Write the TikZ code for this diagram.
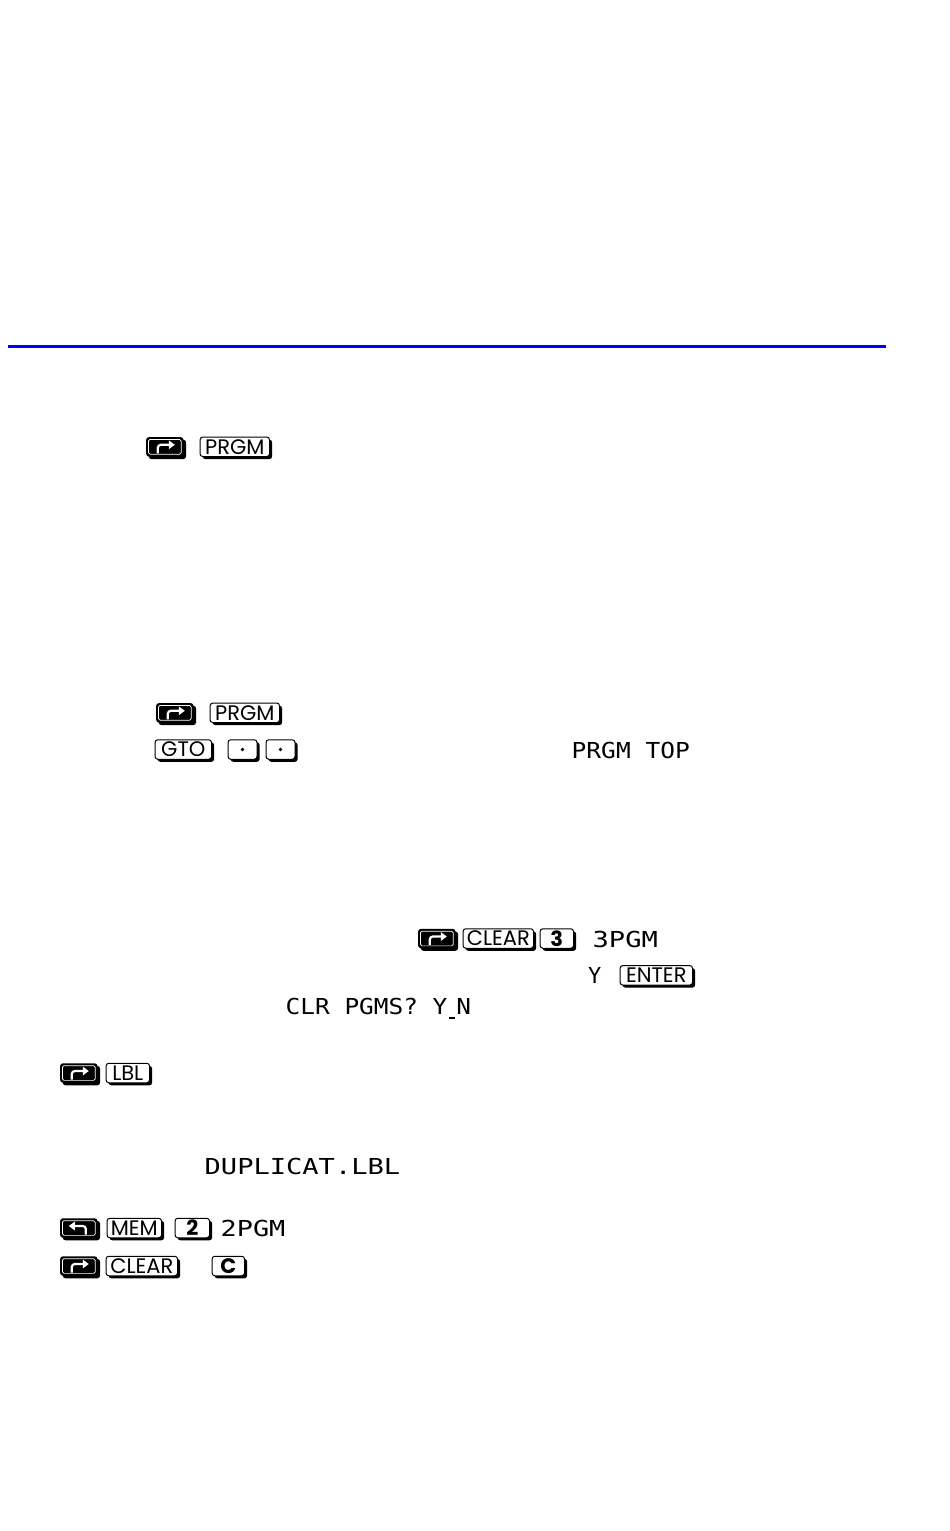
\documentclass[tikz,border=0pt]{standalone}
\usepackage{graphicx}
\usepackage{fontspec}
\setmainfont{Poppins}
\newfontfamily\lcdfam{DejaVu Sans Mono}
\usetikzlibrary{shadows,arrows.meta}
\newcommand\keyfont{\fontsize{21}{22}\selectfont}
\newcommand\lcdfont{\lcdfam\fontsize{22}{24}\selectfont}
\newcommand\lcdcur{\kern1.5pt\rule[-5pt]{5pt}{1.6pt}\kern1.5pt}
\tikzset{
  keysh/.style={drop shadow={shadow xshift=2.6pt, shadow yshift=-2.6pt, opacity=1, fill=black}},
  key/.style={draw=black, line width=1pt, fill=white, rounded corners=2.8pt, inner sep=0pt,
    minimum height=19.5pt, font=\keyfont, keysh},
  numkey/.style={key, font=\keyfont\bfseries},
  shk/.style={fill=black, rounded corners=3pt, inner sep=0pt, minimum width=37.5pt,
    minimum height=19.5pt, keysh},
  lcdtxt/.style={anchor=base west, inner sep=0pt, font=\lcdfont},
  shring/.style={white, line width=0.7pt, rounded corners=1.5pt},
  sharrow/.style={white, line width=2.2pt, rounded corners=3pt, -{Triangle[length=6pt,width=8.5pt]}},
}
% right-shift key: name, x, y
\newcommand\myRsh[3]{%
  \node[shk] (#1) at (#2,#3) {};
  \draw[shring] ([shift={(2.6,2.6)}]#1.north west) rectangle ([shift={(-2.6,-2.6)}]#1.south east);
  \draw[sharrow] ([shift={(-7,6.5)}]#1.center) -- ([shift={(-7,-2)}]#1.center) -- ([shift={(10,-2)}]#1.center);
}
% left-shift key
\newcommand\myLsh[3]{%
  \node[shk] (#1) at (#2,#3) {};
  \draw[shring] ([shift={(2.6,2.6)}]#1.north west) rectangle ([shift={(-2.6,-2.6)}]#1.south east);
  \draw[sharrow] ([shift={(7,6.5)}]#1.center) -- ([shift={(7,-2)}]#1.center) -- ([shift={(-10,-2)}]#1.center);
}
\begin{document}
\begin{tikzpicture}[x=1pt,y=-1pt]
\fill[white] (0,0) rectangle (950,1531);
\useasboundingbox (0,0) rectangle (950,1531);

% blue rule
\coordinate (rl) at (8,346);
\coordinate (rr) at (886,346);
\draw[draw={rgb,255:red,0;green,0;blue,255}, line width=3pt] (rl) -- (rr);

% row 1
\myRsh{s1}{164.8}{446.8}
\node[key, minimum width=69.5pt] (prgm1) at (234.8,446.8) {PRGM};

% row 2
\myRsh{s2}{174.8}{712.8}
\node[key, minimum width=69.5pt] (prgm2) at (244.8,712.8) {PRGM};

% row 3
\node[key, minimum width=56.5pt] (gto) at (183.3,749.5) {GTO};
\node[key, minimum width=29pt] (dot1) at (242.5,749.5) {};
\node[key, minimum width=29pt] (dot2) at (280.5,749.5) {};
\fill (dot1.center) circle (1.8pt);
\fill (dot2.center) circle (1.8pt);
\node[lcdtxt] (ptop) at (571.5,758.3) {\scalebox{1.115}[1]{PRGM TOP}};

% row 4
\myRsh{s3}{436.8}{938.5}
\node[key, minimum width=70.5pt] (clear1) at (498.3,938.5) {CLEAR};
\node[numkey, minimum width=33.5pt] (k3) at (556.8,938.5) {3};
\node[lcdtxt] (p3) at (592.5,947) {\scalebox{1.23}[1]{3PGM}};

% row 5
\node[lcdtxt] (yy) at (588,983) {Y};
\node[key, minimum width=72.5pt] (enter) at (656.3,975.3) {ENTER};

% row 6
\node[lcdtxt] (clr) at (285.5,1014) {\scalebox{1.11}[1]{CLR PGMS? Y\lcdcur N}};

% row 7
\myRsh{s4}{78.8}{1073}
\node[key, minimum width=43.5pt] (lbl) at (127.8,1073) {LBL};

% row 8
\node[lcdtxt] (dup) at (204.5,1174) {\scalebox{1.23}[1]{DUPLICAT.LBL}};

% row 9
\myLsh{s5}{78.8}{1228}
\node[key, minimum width=54.5pt] (mem) at (134.3,1228) {MEM};
\node[numkey, minimum width=34.5pt] (k2) at (192.3,1228) {2};
\node[lcdtxt] (p2) at (220.5,1236.5) {\scalebox{1.22}[1]{2PGM}};

% row 10
\myRsh{s6}{78.8}{1266}
\node[key, minimum width=71.5pt] (clear2) at (141.8,1266) {CLEAR};
\node[numkey, minimum width=32.5pt] (kc) at (228.3,1266) {C};
\end{tikzpicture}
\end{document}
